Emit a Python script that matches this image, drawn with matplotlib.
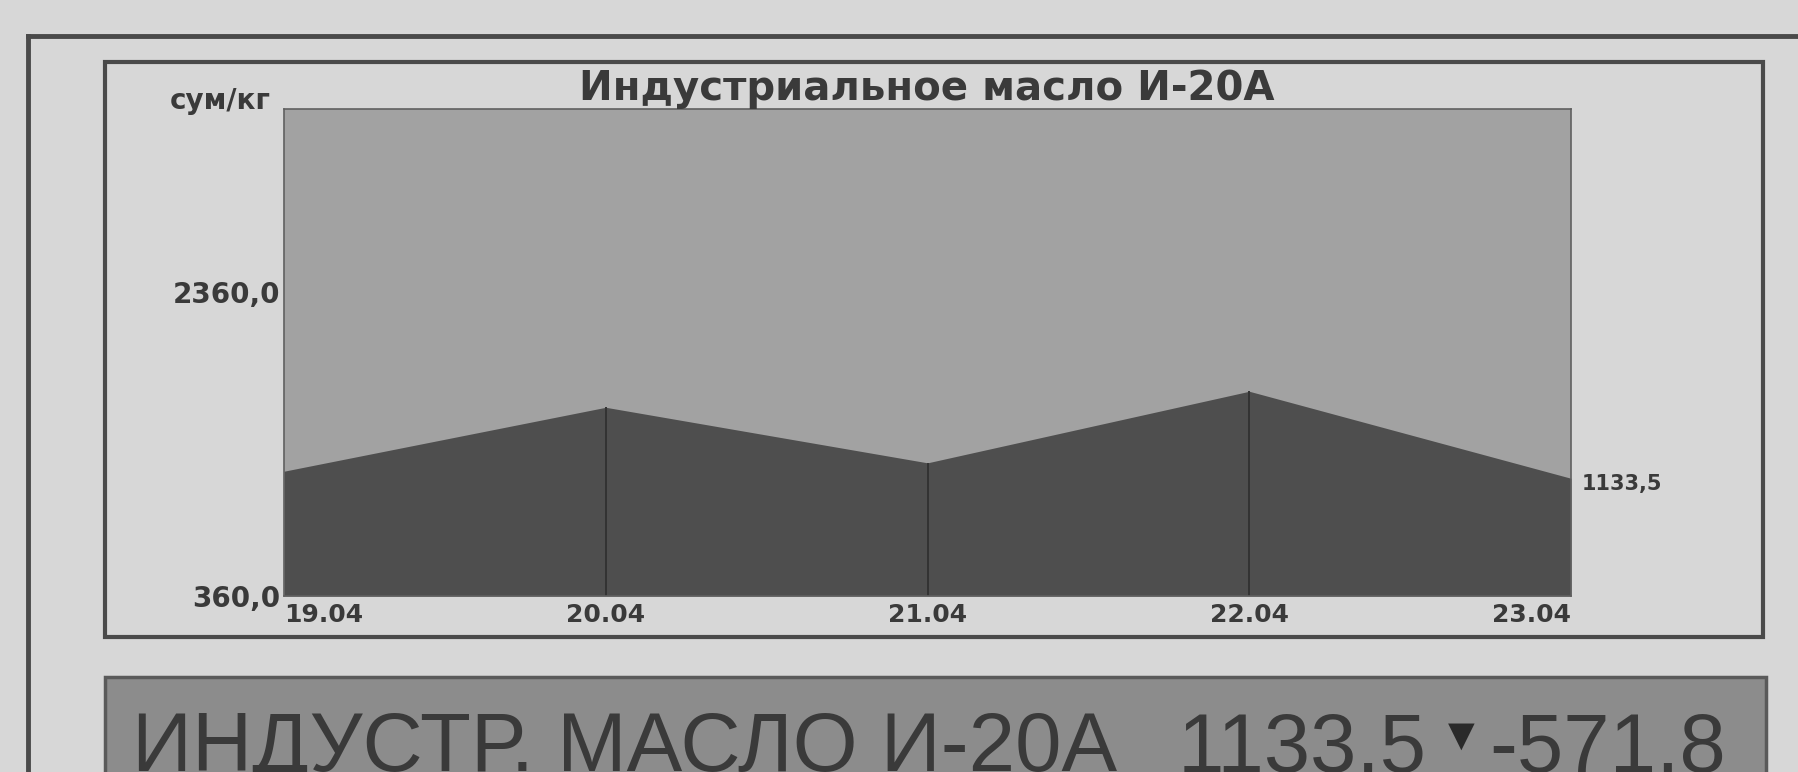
import matplotlib
matplotlib.use('Agg')
import matplotlib.pyplot as plt
from matplotlib.patches import Rectangle


W, H = 1798, 772

dates = ['19.04', '20.04', '21.04', '22.04', '23.04']
prices = [1180.0, 1600.0, 1235.0, 1705.3, 1133.5]
y_ticks = [360.0, 2360.0]
y_tick_labels = ['360,0', '2360,0']
y_top = 3560.0

title = 'Индустриальное масло И-20А'
unit = 'сум/кг'
last_label = '1133,5'
banner_name = 'ИНДУСТР. МАСЛО И-20А'
banner_price = '1133,5'
banner_change = '-571,8'

PAPER = '#d7d7d7'
PLOT_BG = '#a2a2a2'
FILL = '#4e4e4e'
INK = '#3a3a3a'
FRAME = '#4a4a4a'
BANNER = '#8c8c8c'


def fx(px):
    return px / W


def fy(py):
    # pixel from top -> figure fraction
    return 1 - py / H


fig = plt.figure(figsize=(W / 100, H / 100), dpi=100, facecolor=PAPER)

# outer frame (open to the right and bottom)
fig.add_artist(plt.Line2D([fx(28), 1.0], [fy(36), fy(36)], color=FRAME, lw=3.5, transform=fig.transFigure))
fig.add_artist(plt.Line2D([fx(28), fx(28)], [fy(36), 0.0], color=FRAME, lw=3.5, transform=fig.transFigure))

# inner chart box
fig.add_artist(Rectangle((fx(105), fy(637)), fx(1763 - 105), (637 - 62) / H,
                         fill=False, ec=FRAME, lw=3, transform=fig.transFigure))

# bottom banner
fig.add_artist(Rectangle((fx(105), fy(790)), fx(1766 - 105), (790 - 677) / H,
                         fc=BANNER, ec='#5a5a5a', lw=2.5, transform=fig.transFigure))

ax = fig.add_axes([fx(284), fy(596), fx(1571 - 284), (596 - 109) / H])
ax.set_facecolor(PLOT_BG)
x = list(range(len(prices)))
ax.fill_between(x, y_ticks[0], prices, color=FILL, lw=0)
ax.vlines(x[1:-1], y_ticks[0], prices[1:-1], color='#333333', lw=1.4)
ax.set_xlim(0, len(prices) - 1)
ax.set_ylim(y_ticks[0], y_top)
for s in ax.spines.values():
    s.set_color('#606060')
    s.set_linewidth(1.2)

ax.set_xticks(x, dates)
ax.set_yticks(y_ticks, y_tick_labels)
ax.tick_params(length=0)
ax.tick_params(axis='x', pad=5)
ax.tick_params(axis='y', pad=3)
for lab in ax.get_xticklabels() + ax.get_yticklabels():
    lab.set_fontweight('bold')
    lab.set_color(INK)
for lab in ax.get_xticklabels():
    lab.set_fontsize(18)
for lab in ax.get_yticklabels():
    lab.set_fontsize(20)
xl = ax.get_xticklabels()
xl[0].set_ha('left')
xl[-1].set_ha('right')

ax.annotate(last_label, (x[-1], prices[-1]), xytext=(8, -4), textcoords='offset points',
            ha='left', va='center', fontsize=15, fontweight='bold', color=INK,
            annotation_clip=False)

fig.text(fx(927), fy(89), title, ha='center', va='center', fontsize=29,
         fontweight='bold', color=INK)
fig.text(fx(170), fy(101), unit, ha='left', va='center', fontsize=20,
         fontweight='bold', color=INK)

# banner text, pieces laid out one after another
bfont = ['Liberation Sans', 'DejaVu Sans']
renderer = fig.canvas.get_renderer()
t = fig.text(fx(132), fy(771), banner_name, ha='left', va='baseline', fontsize=60,
             family=bfont, color=INK)
x1 = t.get_window_extent(renderer).x1
t = fig.text((x1 + 60) / W, fy(771), banner_price, ha='left', va='baseline', fontsize=60,
             family=bfont, color=INK)
x1 = t.get_window_extent(renderer).x1
t = fig.text((x1 + 22) / W, fy(736), '▼', ha='left', va='center', fontsize=25,
             family='DejaVu Sans', color='#2a2a2a')
x1 = t.get_window_extent(renderer).x1
fig.text((x1 + 14) / W, fy(771), banner_change, ha='left', va='baseline', fontsize=60,
         family=bfont, color=INK)

fig.savefig('out.png', dpi=100, facecolor=PAPER)
